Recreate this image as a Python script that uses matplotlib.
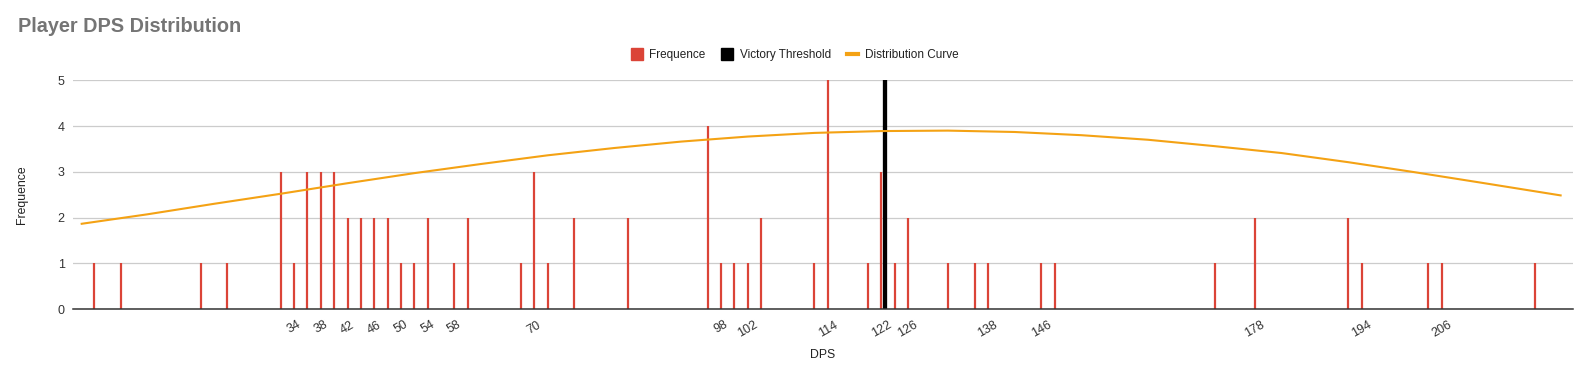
import matplotlib
matplotlib.use('Agg')
import matplotlib.pyplot as plt
from matplotlib.lines import Line2D

plt.rcParams['font.family'] = ['Liberation Sans', 'DejaVu Sans']

# DPS values and how many players landed on each
dps = [4, 8, 20, 24, 32, 34, 36, 38, 40, 42, 44, 46, 48, 50, 52, 54, 58, 60,
       68, 70, 72, 76, 84, 96, 98, 100, 102, 104, 112, 114, 120, 122, 124, 126,
       132, 136, 138, 146, 148, 172, 178, 192, 194, 204, 206, 220]
frequence = [1, 1, 1, 1, 3, 1, 3, 3, 3, 2, 2, 2, 2, 1, 1, 2, 1, 2,
             1, 3, 1, 2, 2, 4, 1, 1, 1, 2, 1, 5, 1, 3, 1, 2,
             1, 1, 1, 1, 1, 1, 2, 2, 1, 1, 1, 1]

victory_threshold = 122.6
threshold_height = 5

# distribution curve
curve_x = [2, 12, 22, 32, 42, 52, 62, 72, 82, 92, 102, 112, 122, 132, 142,
           152, 162, 172, 182, 192, 202, 212, 224]
curve_y = [1.86, 2.07, 2.30, 2.52, 2.75, 2.97, 3.17, 3.36, 3.52, 3.66, 3.77,
           3.85, 3.89, 3.90, 3.87, 3.80, 3.70, 3.56, 3.41, 3.21, 2.99, 2.76, 2.48]

tick_vals = [34, 38, 42, 46, 50, 54, 58, 70, 98, 102, 114, 122, 126, 138,
             146, 178, 194, 206]

RED = '#db4437'
ORANGE = '#f4a214'

fig = plt.figure(figsize=(15.82, 3.69), dpi=100)
ax = fig.add_axes([73 / 1582, 1 - 309 / 369, 1500 / 1582, 228.7 / 369])

ax.vlines(dps, 0, frequence, color=RED, lw=1.6, zorder=3)
ax.vlines([victory_threshold], 0, threshold_height, color='black', lw=3.1, zorder=4)
ax.plot(curve_x, curve_y, color=ORANGE, lw=1.5, zorder=5, solid_capstyle='butt')

ax.set_xlim(0.85, 225.7)
ax.set_ylim(0, 5)
ax.set_yticks(range(6))
ax.grid(axis='y', color='#cccccc', lw=0.9, zorder=0)
ax.set_axisbelow(True)
for s in ['top', 'right', 'left']:
    ax.spines[s].set_visible(False)
ax.spines['bottom'].set_color('#333333')
ax.spines['bottom'].set_linewidth(1.1)
ax.spines['bottom'].set_zorder(6)

ax.set_xticks(tick_vals)
ax.set_xticklabels([str(v) for v in tick_vals], rotation=30, ha='center',
                   fontsize=9, color='#333333')
ax.tick_params(axis='x', length=0, pad=7)
ax.tick_params(axis='y', length=0, pad=6, labelsize=9, labelcolor='#333333')

ax.set_xlabel('DPS', fontsize=8.8, color='#222222')
ax.xaxis.set_label_coords(0.5, -0.175)
ax.set_ylabel('Frequence', fontsize=8.8, color='#222222')
ax.yaxis.set_label_coords(-0.030, 0.5)

fig.text(18 / 1582, 1 - 26 / 369, 'Player DPS Distribution', fontsize=14.3,
         fontweight='bold', color='#757575', va='center', ha='left')

handles = [
    Line2D([], [], marker='s', ls='none', color=RED, markersize=8),
    Line2D([], [], marker='s', ls='none', color='black', markersize=8),
    Line2D([], [], color=ORANGE, lw=3),
]
fig.legend(handles, ['Frequence', 'Victory Threshold', 'Distribution Curve'],
           loc='center', bbox_to_anchor=(0.5026, 1 - 55 / 369), ncol=3,
           frameon=False, fontsize=8.5, handlelength=0.9, handletextpad=0.6,
           columnspacing=1.4, labelcolor='#222222')

fig.savefig('out.png', dpi=100)
